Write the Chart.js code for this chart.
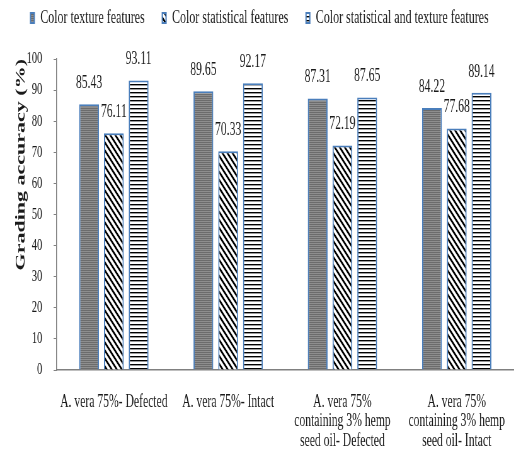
<!DOCTYPE html>
<html>
<head>
<meta charset="utf-8">
<script src="https://cdn.jsdelivr.net/npm/chart.js@4.4.1/dist/chart.umd.min.js"></script>
<style>
  html, body { margin: 0; padding: 0; background: #ffffff; overflow: hidden; width: 519px; height: 458px; }
  #c { display: block; transform: scaleX(0.63); transform-origin: 0 0; }
</style>
</head>
<body>
<canvas id="c" width="824" height="458"></canvas>
<script>
// ---- data ----
const categories = [
  ["A. vera 75%- Defected"],
  ["A. vera 75%- Intact"],
  ["A. vera 75%", "containing 3% hemp", "seed oil- Defected"],
  ["A. vera 75%", "containing 3% hemp", "seed oil- Intact"]
];
const seriesNames = ["Color texture features", "Color statistical features", "Color statistical and texture features"];
const textureValues = [85.43, 89.65, 87.31, 84.22];
const statisticalValues = [76.11, 70.33, 72.19, 77.68];
const combinedValues = [93.11, 92.17, 87.65, 89.14];
const yTicks = [0, 10, 20, 30, 40, 50, 60, 70, 80, 90, 100];
const yTitle = "Grading accuracy (%)";

// ---- patterns ----
function makePattern(w, h, draw) {
  const cv = document.createElement('canvas');
  cv.width = w; cv.height = h;
  const g = cv.getContext('2d');
  draw(g, w, h);
  return g.createPattern(cv, 'repeat');
}
const grayPattern = makePattern(4, 2, (g) => {
  g.fillStyle = '#6c6c6c'; g.fillRect(0, 0, 4, 1);
  g.fillStyle = '#8e8e8e'; g.fillRect(0, 1, 4, 1);
});
const diagPattern = makePattern(8, 8, (g) => {
  g.fillStyle = '#ffffff'; g.fillRect(0, 0, 8, 8);
  g.strokeStyle = '#000000'; g.lineWidth = 2.4;
  g.beginPath();
  g.moveTo(-4, -4); g.lineTo(12, 12);
  g.moveTo(-4, 4); g.lineTo(4, 12);
  g.moveTo(4, -4); g.lineTo(12, 4);
  g.stroke();
});
const hLinePattern = makePattern(4, 4, (g) => {
  g.fillStyle = '#ffffff'; g.fillRect(0, 0, 4, 4);
  g.fillStyle = '#000000'; g.fillRect(0, 0, 4, 1);
  g.fillStyle = '#9a9a9a'; g.fillRect(0, 1, 4, 1);
});

const borderBlue = '#4a7ebb';
const textColor = '#1a1a1a';
const axisColor = '#808080';
const serif = "'Liberation Serif', 'Times New Roman', serif";

// ---- plugins ----
const legendSpacer = {
  id: 'legendSpacer',
  beforeInit(chart) {
    const lg = chart.legend;
    if (lg) {
      const fit = lg.fit;
      lg.fit = function () { fit.call(this); this.height = 78.5; };
    }
  }
};
const valueLabels = {
  id: 'valueLabels',
  afterDatasetsDraw(chart) {
    const ctx = chart.ctx;
    ctx.save();
    ctx.font = "18.5px " + serif;
    ctx.fillStyle = textColor;
    ctx.textAlign = 'center';
    ctx.textBaseline = 'alphabetic';
    chart.data.datasets.forEach((ds, i) => {
      const meta = chart.getDatasetMeta(i);
      meta.data.forEach((el, j) => {
        ctx.fillText(ds.data[j].toFixed(2), el.x, el.y - 16);
      });
    });
    ctx.restore();
  }
};

new Chart(document.getElementById('c'), {
  type: 'bar',
  data: {
    labels: categories,
    datasets: [
      { label: seriesNames[0], data: textureValues, backgroundColor: grayPattern, borderColor: borderBlue, borderWidth: 2 },
      { label: seriesNames[1], data: statisticalValues, backgroundColor: diagPattern, borderColor: borderBlue, borderWidth: 2 },
      { label: seriesNames[2], data: combinedValues, backgroundColor: hLinePattern, borderColor: borderBlue, borderWidth: 2 }
    ]
  },
  options: {
    responsive: false,
    animation: false,
    devicePixelRatio: 1,
    categoryPercentage: 0.65,
    barPercentage: 0.8,
    layout: { padding: { top: -19.5, left: 0, right: 0, bottom: 0 } },
    plugins: {
      legend: {
        position: 'top',
        labels: {
          boxWidth: 6,
          boxHeight: 10,
          padding: 28,
          color: textColor,
          font: { family: serif, size: 19 }
        }
      },
      tooltip: { enabled: false }
    },
    scales: {
      x: {
        grid: { display: false, drawTicks: false },
        border: { display: true, color: axisColor, width: 1.5 },
        ticks: {
          color: textColor,
          padding: 22.5,
          maxRotation: 0,
          autoSkip: false,
          font: { family: serif, size: 18.5, lineHeight: 1.05 }
        },
        afterFit(scale) { scale.height = 88; }
      },
      y: {
        min: 0,
        max: 100,
        afterBuildTicks(scale) { scale.ticks = yTicks.map(v => ({ value: v })); },
        grid: { display: true, drawOnChartArea: false, drawTicks: true, tickLength: 5, color: axisColor },
        border: { display: true, color: axisColor, width: 1.5 },
        ticks: {
          color: textColor,
          padding: 18,
          font: { family: serif, size: 16.5 }
        },
        title: {
          display: true,
          text: yTitle,
          align: 'end',
          color: textColor,
          padding: { top: 20, bottom: 0 },
          font: { family: serif, size: 22, weight: 'bold', lineHeight: 1.2 }
        },
        afterFit(scale) { scale.width = 90; }
      }
    }
  },
  plugins: [legendSpacer, valueLabels]
});
</script>
</body>
</html>
